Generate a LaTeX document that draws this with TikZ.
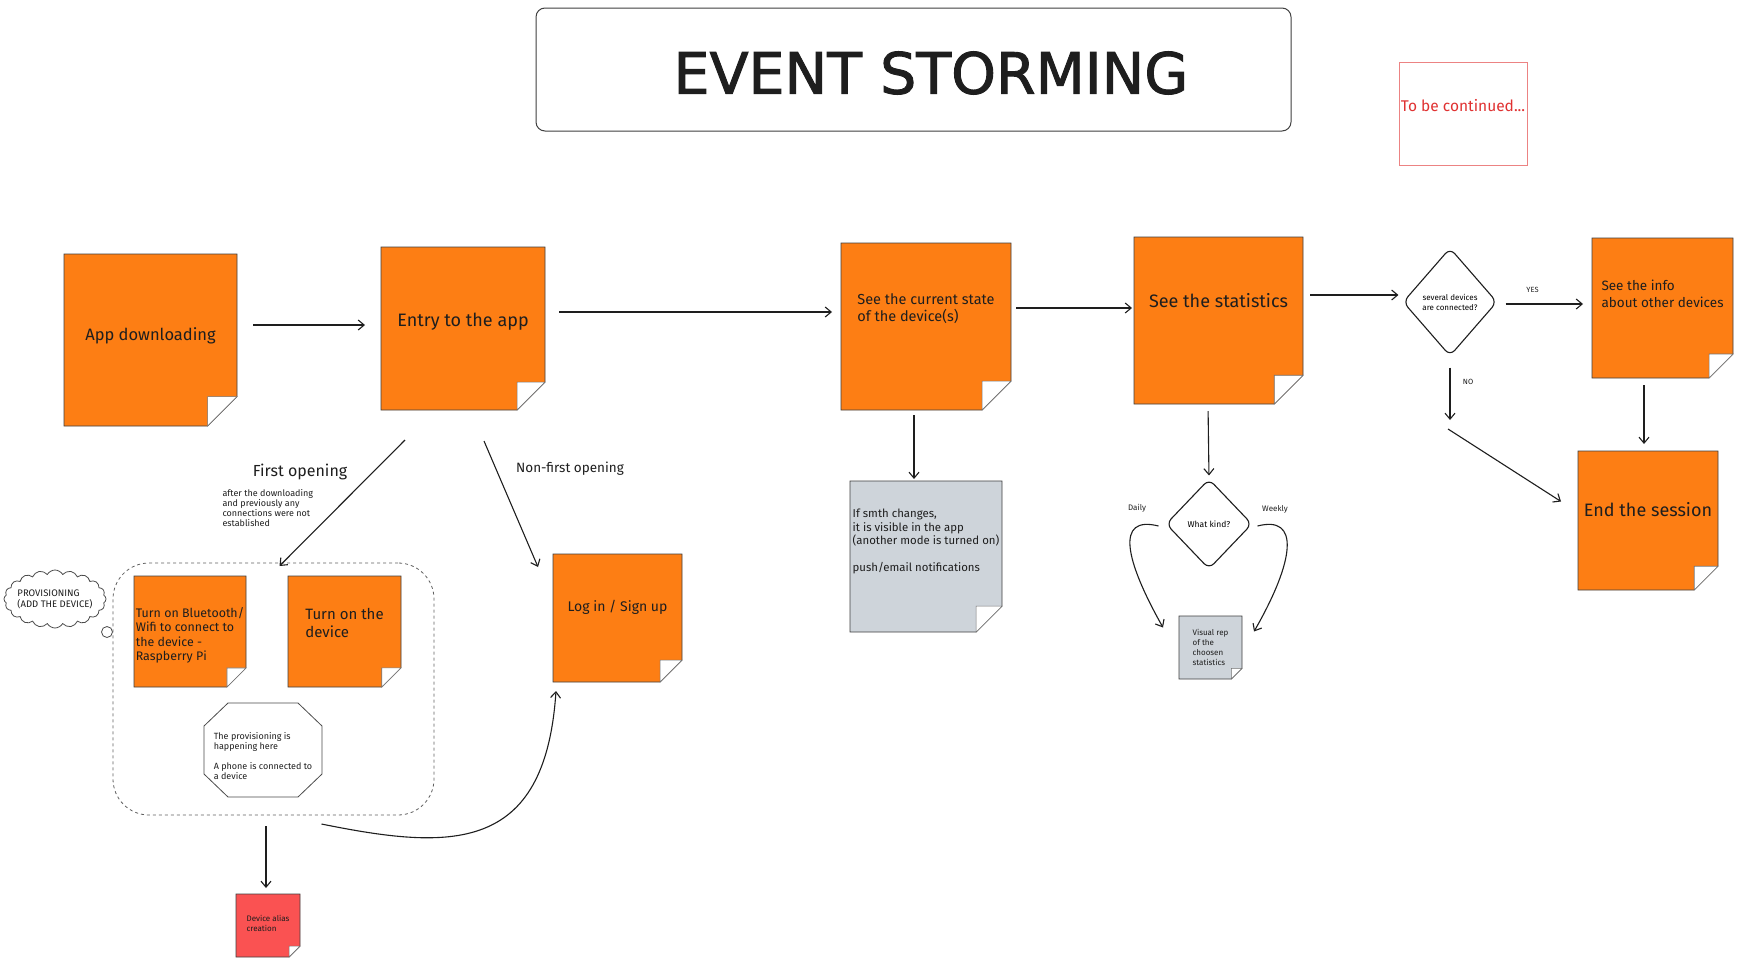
\documentclass[tikz,border=0pt]{standalone}
\usepackage{fontspec}
\setmainfont{Fira Sans}
\newfontfamily\titleFamily[FakeBold=1.6]{DejaVu Sans}
\usetikzlibrary{positioning,calc,shapes.geometric,shapes.symbols,arrows.meta}

\definecolor{inkColor}{RGB}{30,30,30}
\definecolor{noteOrange}{RGB}{253,126,20}
\definecolor{noteGrey}{RGB}{206,212,218}
\definecolor{noteRed}{RGB}{250,82,82}
\definecolor{alertRed}{RGB}{224,49,49}
\newcommand{\handFont}[2]{\fontsize{#1}{#2}\selectfont}
\tikzstyle{flowLine} = [draw=inkColor, line width=1.1pt, -{Straight Barb[length=6pt,width=10pt]}]
\tikzstyle{noteEdge} = [draw=black!75, line width=0.7pt]
\tikzstyle{foldStyle} = [draw=black!55, fill=white, line width=0.6pt]
\tikzstyle{noteFrame} = [anchor=north west, inner sep=0pt, outer sep=0pt]
\tikzstyle{decision} = [diamond, draw=inkColor, line width=1.1pt, rounded corners=7pt, inner sep=0pt, fill=white, align=center]
\tikzstyle{smallText} = [font=\handFont{9}{10}, align=left, text=inkColor]
\tikzstyle{labelText} = [text=inkColor]
\newcommand{\stickyNote}[9]{
  \node[noteFrame, minimum width=#4pt, minimum height=#5pt] (#1) at (#2,#3) {};
  \pgfmathsetmacro{\foldSize}{0.17*#4}
  \filldraw[noteEdge, fill=#6] (#1.north west) -- (#1.north east) -- ([yshift=\foldSize pt]#1.south east) -- ([xshift=-\foldSize pt]#1.south east) -- (#1.south west) -- cycle;
  \filldraw[foldStyle] ([yshift=\foldSize pt]#1.south east) -- ([shift={(-\foldSize pt,\foldSize pt)}]#1.south east) -- ([xshift=-\foldSize pt]#1.south east) -- cycle;
  \node[align=left, text=inkColor, font={#8}] (#1Text) at ([yshift=#7pt]#1.center) {#9};
}

\begin{document}
\begin{tikzpicture}[x=1pt, y=-1pt]
  \fill[white] (0,0) rectangle (1755,961);
  \useasboundingbox (0,0) rectangle (1755,961);

  % title
  \node[noteFrame, draw=inkColor!85, line width=1pt, rounded corners=9pt, minimum width=755pt, minimum height=123pt] (titleBox) at (536,8) {};
  \node[labelText, font=\titleFamily\handFont{57}{60}] (titleText) at (931,73) {EVENT STORMING};
  \node[noteFrame, draw=alertRed!60, line width=1pt, minimum width=128pt, minimum height=103pt] (continuedBox) at (1399,62) {};
  \node[text=alertRed, font=\handFont{15.5}{18}] (continuedText) at (1463,106) {To be continued...};

  % main line
  \stickyNote{appNote}{64}{254}{173}{172}{noteOrange}{4}{\handFont{16.5}{20}}{App downloading}
  \stickyNote{entryNote}{381}{247}{164}{163}{noteOrange}{7}{\handFont{18}{21}}{Entry to the app}
  \stickyNote{currentNote}{841}{243}{170}{167}{noteOrange}{18}{\handFont{14.5}{17.5}}{See the current state\\of the device(s)}
  \stickyNote{statsNote}{1134}{237}{169}{167}{noteOrange}{20}{\handFont{18}{21}}{See the statistics}
  \stickyNote{infoNote}{1592}{238}{141}{140}{noteOrange}{14}{\handFont{13.5}{16.5}}{See the info\\about other devices}
  \stickyNote{endNote}{1578}{451}{140}{139}{noteOrange}{11}{\handFont{18}{21}}{End the session}
  \stickyNote{changesNote}{850}{481}{152}{151}{noteGrey}{15}{\handFont{11.4}{13.5}}{If smth changes,\\it is visible in the app\\(another mode is turned on)\\[13pt]push/email notifications}
  \stickyNote{visualNote}{1179}{616}{63}{63}{noteGrey}{0}{\handFont{8}{10}}{Visual rep\\of the\\choosen\\statistics}
  \stickyNote{loginNote}{553}{554}{129}{128}{noteOrange}{11}{\handFont{14}{17}}{Log in / Sign up}

  \node[decision, minimum width=94pt, minimum height=108pt, font=\handFont{8}{10}] (severalCheck) at (1450,302) {several devices\\are connected?};
  \node[decision, minimum width=86pt, minimum height=90pt, font=\handFont{8.5}{10}] (kindCheck) at (1209,524) {What kind?};

  % provisioning
  \node[draw=inkColor!80, line width=0.8pt, circle, minimum size=11pt, inner sep=0pt, fill=white] (cloudDot) at (107,632) {};
  \node[cloud, cloud puffs=20, cloud puff arc=120, aspect=2.2, draw=inkColor!80, line width=0.8pt, fill=white, minimum width=102pt, minimum height=58pt, inner sep=0pt] (provCloud) at (55,599) {};
  \node[labelText, align=left, font=\handFont{9.5}{11}] (provCloudText) at (provCloud.center) {PROVISIONING\\(ADD THE DEVICE)};
  \node[noteFrame, draw=inkColor!70, dash pattern=on 3pt off 3pt, line width=0.8pt, rounded corners=36pt, minimum width=321pt, minimum height=252pt] (provRegion) at (113,563) {};
  \stickyNote{bluetoothNote}{134}{576}{112}{111}{noteOrange}{-4}{\handFont{12.4}{14.5}}{Turn on Bluetooth/\\Wifi to connect to\\the device -\\Raspberry Pi}
  \stickyNote{deviceNote}{288}{576}{113}{111}{noteOrange}{9}{\handFont{15}{18}}{Turn on the\\device}
  \node[noteFrame, minimum width=118pt, minimum height=94pt] (octoBox) at (204,703) {};
  \filldraw[draw=inkColor!80, fill=white, line width=0.8pt] ([xshift=24pt]octoBox.north west) -- ([xshift=-24pt]octoBox.north east) -- ([yshift=-23pt]octoBox.north east) -- ([yshift=23pt]octoBox.south east) -- ([xshift=-24pt]octoBox.south east) -- ([xshift=24pt]octoBox.south west) -- ([yshift=23pt]octoBox.south west) -- ([yshift=-23pt]octoBox.north west) -- cycle;
  \node[smallText] (octoText) at ([yshift=-6pt]octoBox.center) {The provisioning is\\happening here\\[10pt]A phone is connected to\\a device};
  \stickyNote{aliasNote}{236}{894}{64}{63}{noteRed}{2}{\handFont{8}{10}}{Device alias\\creation}

  % labels
  \node[labelText, font=\handFont{16}{19}] (firstLabel) at (300,472) {First opening};
  \node[smallText, anchor=north west] (firstNote) at (219,486) {after the downloading\\and previously any\\connections were not\\established};
  \node[labelText, font=\handFont{13.5}{16}] (nonFirstLabel) at (570,469) {Non-first opening};
  \node[labelText, font=\handFont{8}{10}] (dailyLabel) at (1137,508) {Daily};
  \node[labelText, font=\handFont{8}{10}] (weeklyLabel) at (1275,509) {Weekly};

  % connectors
  \draw[flowLine, shorten <=16pt, shorten >=16pt] (appNote.east |- 0,325) -- (entryNote.west |- 0,325);
  \draw[flowLine, shorten <=14pt, shorten >=9pt] (entryNote.east |- 0,312) -- (currentNote.west |- 0,312);
  \draw[flowLine, shorten <=5pt, shorten >=2pt] (currentNote.east |- 0,308) -- (statsNote.west |- 0,308);
  \draw[flowLine, shorten <=7pt, shorten >=4pt] (statsNote.east |- 0,295) -- (severalCheck.west |- 0,295);
  \draw[flowLine, shorten <=8pt, shorten >=9pt] (severalCheck.east |- 0,304) -- (infoNote.west |- 0,304) node[labelText, font=\handFont{7.5}{9}, pos=0.37, above=8pt] (yesLabel) {YES};
  \coordinate (noEnd) at (1450,420);
  \draw[flowLine, shorten <=11pt] (severalCheck.south) -- (noEnd) node[labelText, font=\handFont{7.5}{9}, pos=0.4, right=9pt] (noLabel) {NO};
  \coordinate (noStart) at (1448,429);
  \draw[flowLine] (noStart) -- ($(endNote.west)+(-17,-19)$);
  \draw[flowLine, shorten <=7pt, shorten >=7pt] (infoNote.south -| 1644,0) -- (endNote.north -| 1644,0);
  \draw[flowLine] ($(entryNote.south)+(-58,30)$) -- ($(provRegion.north)+(6,3)$);
  \draw[flowLine] ($(entryNote.south)+(21,31)$) -- ($(loginNote.north west)+(-15,13)$);
  \draw[flowLine, shorten <=5pt, shorten >=2pt] (currentNote.south -| 914,0) -- (changesNote.north -| 914,0);
  \draw[flowLine, shorten <=7pt, shorten >=3pt] (statsNote.south -| 1208,0) -- (kindCheck.north);
  \draw[flowLine] ($(kindCheck.west)+(-7,2)$) .. controls (1115,515) and (1125,560) .. ($(visualNote.west)+(-16,-20)$);
  \draw[flowLine] ($(kindCheck.east)+(5,2)$) .. controls (1300,515) and (1295,560) .. ($(visualNote.east)+(12,-16)$);
  \draw[flowLine, shorten <=11pt, shorten >=6pt] (provRegion.south -| 266,0) -- (aliasNote.north -| 266,0);
  \draw[flowLine] ($(provRegion.south)+(48,9)$) .. controls (450,850) and (545,855) .. ($(loginNote.south west)+(3,9)$);
\end{tikzpicture}
\end{document}
